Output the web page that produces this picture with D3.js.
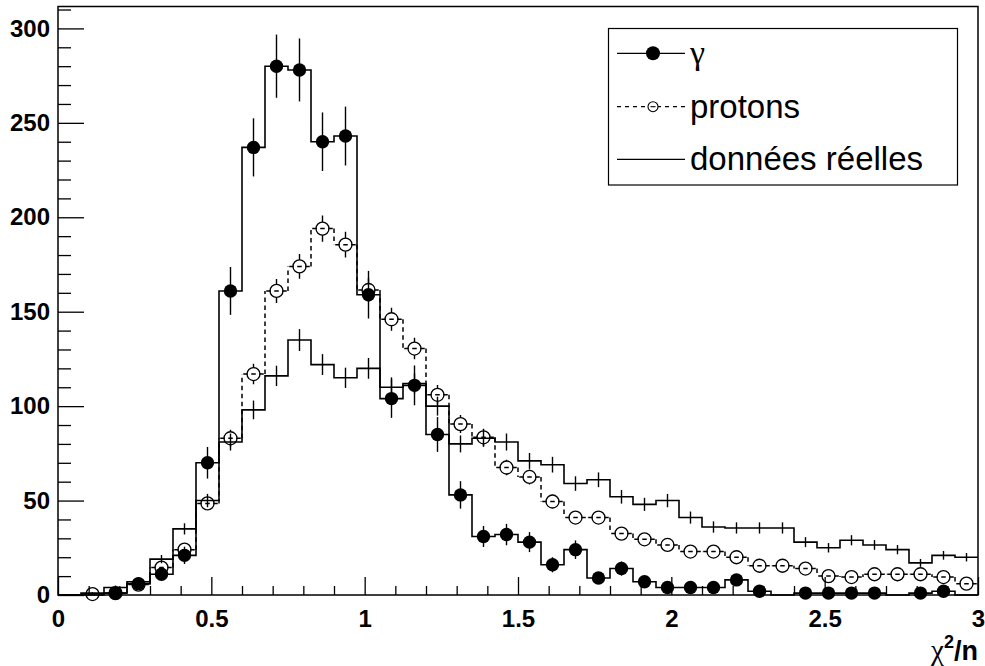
<!DOCTYPE html>
<html>
<head>
<meta charset="utf-8">
<script src="https://cdn.jsdelivr.net/npm/d3@7"></script>
<style>
  body { margin: 0; background: #fff; }
  svg { display: block; }
  .tick text { font-family: "Liberation Sans", Arial, sans-serif; font-weight: bold; font-size: 24px; fill: #000; }
  .tick line { stroke: #000; stroke-width: 1.3; }
</style>
</head>
<body>
<div id="chart"></div>
<script>
// 40 bins of width 0.075 on chi2/n in [0, 3]
const binEdges = d3.range(0, 41).map(k => k * 0.075);

const gammaCounts = [0, 0, 1, 6, 11, 21, 70, 161, 237, 280, 278, 240, 243, 159, 104, 111, 85, 53, 31, 32,
  28, 16, 24, 9, 14, 7, 4, 4, 4, 8, 2, 0, 1, 1, 1, 1, 0, 1, 2, 0];

const protonCounts = [0, 0.5, 1, 5.5, 14.5, 24, 48.5, 83, 117, 161, 174, 194, 185.5, 161.5, 146, 130.5, 106, 90.5, 83.5, 67.5,
  62.5, 49.5, 41, 41, 32.5, 29.5, 26.5, 23, 23, 20, 15.5, 15.5, 14, 10, 9.5, 11, 11, 11, 9.5, 6];

const dataCounts = [0, 1, 4, 7, 19, 35, 50, 81, 98, 116, 135, 122, 115, 120, 110, 112, 100, 80, 83, 81,
  71, 69, 59, 61, 52, 48, 50, 41, 36, 35.5, 35.5, 35.5, 28, 25, 29, 26.5, 24, 17, 21, 20];

const xTicks = [0, 0.5, 1, 1.5, 2, 2.5, 3];
const yTicks = [0, 50, 100, 150, 200, 250, 300];
const legendLabels = ["γ", "protons", "données réelles"];

const W = 985, H = 666;
const svg = d3.select("#chart").append("svg").attr("width", W).attr("height", H);

const x = d3.scaleLinear().domain([0, 3]).range([58, 978]);
const y = d3.scaleLinear().domain([0, 311.6]).range([595, 6.5]);

// axes (ticks inside the frame)
const yMinor = d3.range(0, 311, 10).filter(v => v % 50 !== 0);
svg.append("g").attr("transform", `translate(${x(0)},0)`)
  .call(d3.axisLeft(y).tickValues(yMinor).tickSize(-13).tickSizeOuter(0).tickFormat(""))
  .call(g => g.select(".domain").remove());
svg.append("g").attr("transform", `translate(${x(0)},0)`)
  .call(d3.axisLeft(y).tickValues(yTicks).tickSize(-26).tickSizeOuter(0).tickPadding(8).tickFormat(d3.format("d")))
  .call(g => g.select(".domain").remove());

const xMinor = d3.range(0, 31).map(k => k / 10).filter(v => Math.round(v * 10) % 5 !== 0);
svg.append("g").attr("transform", `translate(0,${y(0)})`)
  .call(d3.axisBottom(x).tickValues(xMinor).tickSize(-9).tickSizeOuter(0).tickFormat(""))
  .call(g => g.select(".domain").remove());
svg.append("g").attr("transform", `translate(0,${y(0)})`)
  .call(d3.axisBottom(x).tickValues(xTicks).tickSize(-18).tickSizeOuter(0).tickPadding(15).tickFormat(d => d3.format("")(d)))
  .call(g => g.select(".domain").remove());

// frame
svg.append("rect")
  .attr("x", x(0)).attr("y", y.range()[1])
  .attr("width", x(3) - x(0)).attr("height", y(0) - y.range()[1])
  .attr("fill", "none").attr("stroke", "#000").attr("stroke-width", 1.5);

const bins = d3.range(40).map(i => ({
  i, x0: binEdges[i], x1: binEdges[i + 1], xc: (binEdges[i] + binEdges[i + 1]) / 2
}));

const stepLine = d3.line().x(d => x(d[0])).y(d => y(d[1])).curve(d3.curveStepAfter);
function stepPoints(vals) {
  const pts = vals.map((v, i) => [binEdges[i], v]);
  pts.push([binEdges[40], vals[39]]);
  return pts;
}

// données réelles: solid histogram + error crosses
svg.append("path").attr("d", stepLine(stepPoints(dataCounts)))
  .attr("fill", "none").attr("stroke", "#000").attr("stroke-width", 1.6);
svg.append("g").selectAll("line")
  .data(bins.filter(b => dataCounts[b.i] > 0))
  .join("line")
  .attr("x1", b => x(b.xc)).attr("x2", b => x(b.xc))
  .attr("y1", b => y(dataCounts[b.i] + Math.sqrt(dataCounts[b.i]) / 2))
  .attr("y2", b => y(Math.max(0, dataCounts[b.i] - Math.sqrt(dataCounts[b.i]) / 2)))
  .attr("stroke", "#000").attr("stroke-width", 1.4);

// protons: dashed histogram, open circles
const dash = "4.5,3.5";
const pG = svg.append("g");
pG.selectAll("line.h")
  .data(bins)
  .join("line").attr("class", "h")
  .attr("x1", b => x(b.x0)).attr("x2", b => x(b.x1))
  .attr("y1", b => y(protonCounts[b.i])).attr("y2", b => y(protonCounts[b.i]))
  .attr("stroke", "#000").attr("stroke-width", 1.5)
  .attr("stroke-dasharray", dash)
  .attr("stroke-dashoffset", b => 2.25 - (x(b.x1) - x(b.x0)) / 2);
pG.selectAll("line.v")
  .data(bins.slice(1))
  .join("line").attr("class", "v")
  .attr("x1", b => x(b.x0)).attr("x2", b => x(b.x0))
  .attr("y1", b => y(protonCounts[b.i - 1])).attr("y2", b => y(protonCounts[b.i]))
  .attr("stroke", "#000").attr("stroke-width", 1.5)
  .attr("stroke-dasharray", dash);
const rOpen = 6.5;
const pBins = bins.filter(b => protonCounts[b.i] > 0);
pG.selectAll("path.err")
  .data(pBins)
  .join("path").attr("class", "err")
  .attr("d", b => {
    const v = protonCounts[b.i], e = Math.sqrt(v) / 2;
    const cx = x(b.xc), cy = y(v), top = y(v + e), bot = y(Math.max(0, v - e));
    let d = "";
    if (cy - top > rOpen) d += `M${cx},${top}V${cy - rOpen}`;
    if (bot - cy > rOpen) d += `M${cx},${cy + rOpen}V${bot}`;
    return d;
  })
  .attr("fill", "none").attr("stroke", "#000").attr("stroke-width", 1.4);
pG.selectAll("circle")
  .data(pBins)
  .join("circle")
  .attr("cx", b => x(b.xc)).attr("cy", b => y(protonCounts[b.i]))
  .attr("r", rOpen)
  .attr("fill", "none").attr("stroke", "#000").attr("stroke-width", 1.3);

// gamma: solid histogram, filled circles
svg.append("path").attr("d", stepLine(stepPoints(gammaCounts)))
  .attr("fill", "none").attr("stroke", "#000").attr("stroke-width", 1.6);
const gBins = bins.filter(b => gammaCounts[b.i] > 0);
svg.append("g").selectAll("line")
  .data(gBins)
  .join("line")
  .attr("x1", b => x(b.xc)).attr("x2", b => x(b.xc))
  .attr("y1", b => y(gammaCounts[b.i] + Math.sqrt(gammaCounts[b.i])))
  .attr("y2", b => y(Math.max(0, gammaCounts[b.i] - Math.sqrt(gammaCounts[b.i]))))
  .attr("stroke", "#000").attr("stroke-width", 1.4);
svg.append("g").selectAll("circle")
  .data(gBins)
  .join("circle")
  .attr("cx", b => x(b.xc)).attr("cy", b => y(gammaCounts[b.i]))
  .attr("r", 6.7).attr("fill", "#000");

// x axis title
const xt = svg.append("text")
  .attr("x", 978).attr("y", 660).attr("text-anchor", "end")
  .style("font-family", "'Liberation Sans', Arial, sans-serif").style("font-weight", "bold").style("font-size", "27px");
xt.append("tspan").style("font-family", "'Liberation Serif', serif").style("font-weight", "normal").style("font-size", "29px").text("χ");
xt.append("tspan").attr("dy", -12).style("font-size", "18px").text("2");
xt.append("tspan").attr("dy", 12).text("/n");

// legend
const leg = svg.append("g");
leg.append("rect").attr("x", 608.5).attr("y", 28.5).attr("width", 349).attr("height", 156.5)
  .attr("fill", "#fff").attr("stroke", "#000").attr("stroke-width", 1.2);
const rows = [53.3, 106.7, 159.3];
leg.append("line").attr("x1", 617).attr("x2", 685).attr("y1", rows[0]).attr("y2", rows[0])
  .attr("stroke", "#000").attr("stroke-width", 1.3);
leg.append("circle").attr("cx", 653).attr("cy", rows[0]).attr("r", 7).attr("fill", "#000");
leg.append("line").attr("x1", 617).attr("x2", 685).attr("y1", rows[1]).attr("y2", rows[1])
  .attr("stroke", "#000").attr("stroke-width", 1.2).attr("stroke-dasharray", "4,4");
leg.append("circle").attr("cx", 653).attr("cy", rows[1]).attr("r", 5).attr("fill", "#fff")
  .attr("stroke", "#000").attr("stroke-width", 1.1);
leg.append("line").attr("x1", 650.5).attr("x2", 655.5).attr("y1", rows[1]).attr("y2", rows[1])
  .attr("stroke", "#000").attr("stroke-width", 1.1);
leg.append("line").attr("x1", 617).attr("x2", 685).attr("y1", rows[2]).attr("y2", rows[2])
  .attr("stroke", "#000").attr("stroke-width", 1.3);
leg.selectAll("text.lab")
  .data(legendLabels)
  .join("text").attr("class", "lab")
  .attr("x", 690).attr("y", (d, i) => rows[i] + 11)
  .style("font-family", (d, i) => i === 0 ? "'Liberation Serif', serif" : "'Liberation Sans', Arial, sans-serif")
  .style("font-size", (d, i) => i === 0 ? "34px" : "33px")
  .text(d => d);
</script>
</body>
</html>
